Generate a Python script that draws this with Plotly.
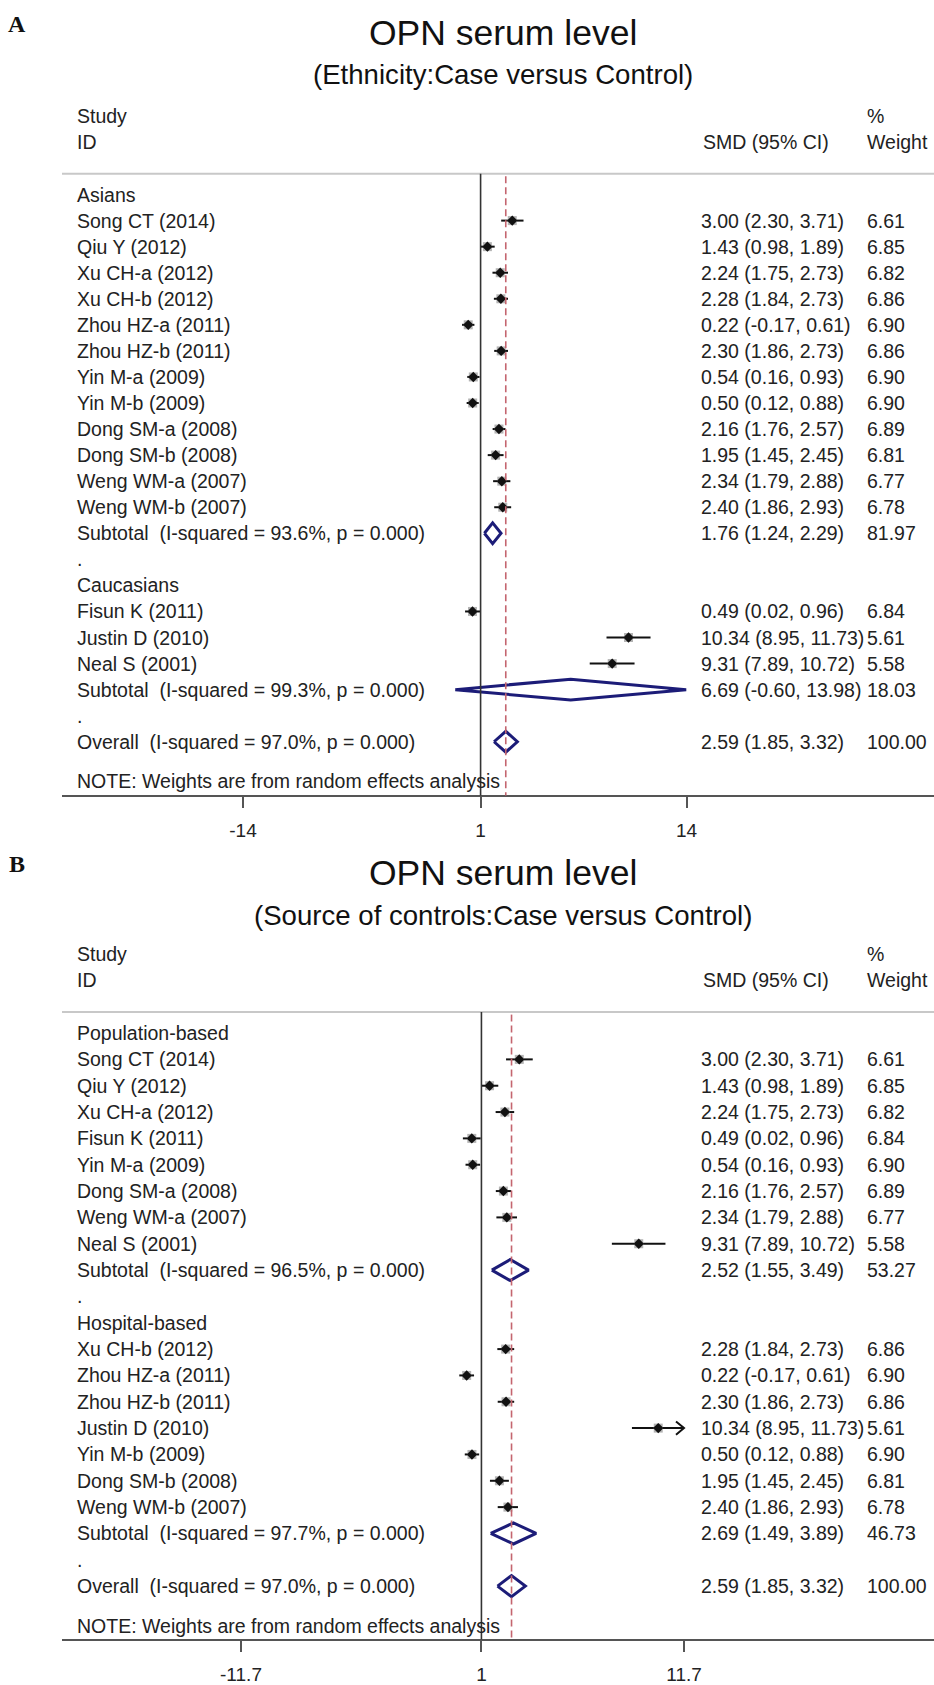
import plotly.graph_objects as go

W, H = 934, 1685
FONT = "Liberation Sans, Arial, sans-serif"
TXT = "#222222"

# ---------------- Panel A data (Ethnicity) ----------------
a_title = "OPN serum level"
a_subtitle = "(Ethnicity:Case versus Control)"
a_labels = ["Asians",
            "Song CT (2014)", "Qiu Y (2012)", "Xu CH-a (2012)", "Xu CH-b (2012)",
            "Zhou HZ-a (2011)", "Zhou HZ-b (2011)", "Yin M-a (2009)", "Yin M-b (2009)",
            "Dong SM-a (2008)", "Dong SM-b (2008)", "Weng WM-a (2007)", "Weng WM-b (2007)",
            "Subtotal\u00a0 (I-squared = 93.6%, p = 0.000)",
            ".",
            "Caucasians",
            "Fisun K (2011)", "Justin D (2010)", "Neal S (2001)",
            "Subtotal\u00a0 (I-squared = 99.3%, p = 0.000)",
            ".",
            "Overall\u00a0 (I-squared = 97.0%, p = 0.000)"]
a_kind = ["group"] + ["study"] * 12 + ["sub", "dot", "group"] + ["study"] * 3 + ["sub", "dot", "overall"]
a_est = [None, 3.00, 1.43, 2.24, 2.28, 0.22, 2.30, 0.54, 0.50, 2.16, 1.95, 2.34, 2.40, 1.76,
         None, None, 0.49, 10.34, 9.31, 6.69, None, 2.59]
a_lo = [None, 2.30, 0.98, 1.75, 1.84, -0.17, 1.86, 0.16, 0.12, 1.76, 1.45, 1.79, 1.86, 1.24,
        None, None, 0.02, 8.95, 7.89, -0.60, None, 1.85]
a_hi = [None, 3.71, 1.89, 2.73, 2.73, 0.61, 2.73, 0.93, 0.88, 2.57, 2.45, 2.88, 2.93, 2.29,
        None, None, 0.96, 11.73, 10.72, 13.98, None, 3.32]
a_wt = [None, 6.61, 6.85, 6.82, 6.86, 6.90, 6.86, 6.90, 6.90, 6.89, 6.81, 6.77, 6.78, 81.97,
        None, None, 6.84, 5.61, 5.58, 18.03, None, 100.00]
a_ticks = [-14, 1, 14]
a_ticktext = ["-14", "1", "14"]

# ---------------- Panel B data (Source of controls) ----------------
b_title = "OPN serum level"
b_subtitle = "(Source of controls:Case versus Control)"
b_labels = ["Population-based",
            "Song CT (2014)", "Qiu Y (2012)", "Xu CH-a (2012)", "Fisun K (2011)",
            "Yin M-a (2009)", "Dong SM-a (2008)", "Weng WM-a (2007)", "Neal S (2001)",
            "Subtotal\u00a0 (I-squared = 96.5%, p = 0.000)",
            ".",
            "Hospital-based",
            "Xu CH-b (2012)", "Zhou HZ-a (2011)", "Zhou HZ-b (2011)", "Justin D (2010)",
            "Yin M-b (2009)", "Dong SM-b (2008)", "Weng WM-b (2007)",
            "Subtotal\u00a0 (I-squared = 97.7%, p = 0.000)",
            ".",
            "Overall\u00a0 (I-squared = 97.0%, p = 0.000)"]
b_kind = ["group"] + ["study"] * 8 + ["sub", "dot", "group"] + ["study"] * 7 + ["sub", "dot", "overall"]
b_est = [None, 3.00, 1.43, 2.24, 0.49, 0.54, 2.16, 2.34, 9.31, 2.52,
         None, None, 2.28, 0.22, 2.30, 10.34, 0.50, 1.95, 2.40, 2.69, None, 2.59]
b_lo = [None, 2.30, 0.98, 1.75, 0.02, 0.16, 1.76, 1.79, 7.89, 1.55,
        None, None, 1.84, -0.17, 1.86, 8.95, 0.12, 1.45, 1.86, 1.49, None, 1.85]
b_hi = [None, 3.71, 1.89, 2.73, 0.96, 0.93, 2.57, 2.88, 10.72, 3.49,
        None, None, 2.73, 0.61, 2.73, 11.73, 0.88, 2.45, 2.93, 3.89, None, 3.32]
b_wt = [None, 6.61, 6.85, 6.82, 6.84, 6.90, 6.89, 6.77, 5.58, 53.27,
        None, None, 6.86, 6.90, 6.86, 5.61, 6.90, 6.81, 6.78, 46.73, None, 100.00]
b_ticks = [-11.7, 1, 11.7]
b_ticktext = ["-11.7", "1", "11.7"]

null_value = 1
note_text = "NOTE: Weights are from random effects analysis"

# ---------------- layout geometry (pixels) ----------------
X_LEFT, X_RIGHT = 62, 934
X_LABEL, X_EST, X_WT = 76, 700, 866
SPLIT = 842  # pixel row dividing the two panels
panels = [
    dict(key="", lab="A", title=a_title, sub=a_subtitle, labels=a_labels, kind=a_kind,
         est=a_est, lo=a_lo, hi=a_hi, wt=a_wt, ticks=a_ticks, ticktext=a_ticktext,
         tick_px=(243, 686.5), row0=195.0, step=26.12, axis_px=797.5,
         lab_y=24, title_y=33, sub_y=75, top=0, bottom=SPLIT),
    dict(key="2", lab="B", title=b_title, sub=b_subtitle, labels=b_labels, kind=b_kind,
         est=b_est, lo=b_lo, hi=b_hi, wt=b_wt, ticks=b_ticks, ticktext=b_ticktext,
         tick_px=(241, 684), row0=1035.5, step=26.4, axis_px=1643.5,
         lab_y=866, title_y=875, sub_y=918, top=SPLIT, bottom=H),
]
SEP_ROW = -0.8
NOTE_ROW = 22.5

fig = go.Figure()
annotations = []
shapes = []
layout_axes = {}


def ann(xpx, y, yref, text, size=19.5, anchor="left", color=TXT, family=FONT, yanchor="middle"):
    return dict(x=xpx / W, xref="paper", y=y, yref=yref, text=text, showarrow=False,
                xanchor=anchor, yanchor=yanchor, borderpad=0,
                font=dict(size=size, color=color, family=family))


for p in panels:
    k = p["key"]
    xr, yr = "x" + k, "y" + k
    lo_t, hi_t = p["ticks"][0], p["ticks"][-1]
    plo, phi = p["tick_px"]
    s = (phi - plo) / (hi_t - lo_t)
    x_range = [lo_t - (plo - X_LEFT) / s, hi_t + (X_RIGHT - phi) / s]
    y_range = [(p["bottom"] - p["row0"]) / p["step"], (p["top"] - p["row0"]) / p["step"]]
    axis_row = (p["axis_px"] - p["row0"]) / p["step"]

    layout_axes["xaxis" + k] = dict(
        domain=[X_LEFT / W, 1], range=x_range, anchor="free", position=1 - p["axis_px"] / H,
        tickvals=p["ticks"], ticktext=p["ticktext"], showline=True, linecolor="#555555",
        linewidth=2.4, ticks="outside", ticklen=11, tickwidth=2, tickcolor="#555555",
        showgrid=False, zeroline=False, ticklabelstandoff=6,
        tickfont=dict(size=19, color=TXT, family=FONT), fixedrange=True)
    layout_axes["yaxis" + k] = dict(domain=[1 - p["bottom"] / H, 1 - p["top"] / H], range=y_range,
                                    anchor=xr, visible=False, showgrid=False, zeroline=False,
                                    fixedrange=True)

    # panel letter, titles
    annotations.append(ann(17, 1 - p["lab_y"] / H, "paper", "<b>" + p["lab"] + "</b>", size=24,
                           anchor="center", color="#111", family="Liberation Serif, Times New Roman, serif"))
    annotations.append(ann(503, 1 - p["title_y"] / H, "paper", p["title"], size=35.5, anchor="center", color="#111"))
    annotations.append(ann(503, 1 - p["sub_y"] / H, "paper", p["sub"], size=27.6, anchor="center", color="#111"))

    # column headers
    annotations.append(ann(X_LABEL, -3, yr, "Study"))
    annotations.append(ann(X_LABEL, -2, yr, "ID"))
    annotations.append(ann(X_EST + 2, -2, yr, "SMD (95% CI)"))
    annotations.append(ann(X_WT, -3, yr, "%"))
    annotations.append(ann(X_WT, -2, yr, "Weight"))
    annotations.append(ann(X_LABEL, NOTE_ROW, yr, note_text))

    # separator line under header
    shapes.append(dict(type="line", xref="paper", x0=X_LEFT / W, x1=1, yref=yr, y0=SEP_ROW, y1=SEP_ROW,
                       line=dict(color="#c8c8c8", width=2)))
    # null line
    shapes.append(dict(type="line", xref=xr, x0=null_value, x1=null_value, yref=yr, y0=SEP_ROW, y1=axis_row,
                       line=dict(color="#333333", width=1.6)))
    # overall effect dashed line
    overall = [e for e, kd in zip(p["est"], p["kind"]) if kd == "overall"][0]
    shapes.append(dict(type="line", xref=xr, x0=overall, x1=overall, yref=yr, y0=SEP_ROW + 0.1, y1=axis_row,
                       line=dict(color="#c4656f", width=1.6, dash="7px,4px")))

    ci_x, ci_y, pt_x, pt_y = [], [], [], []
    arrow_x, arrow_y = [], []
    dia_x, dia_y = [], []
    for r, (lab, kd, e, lo, hi, w) in enumerate(zip(p["labels"], p["kind"], p["est"], p["lo"], p["hi"], p["wt"])):
        annotations.append(ann(X_LABEL, r, yr, lab))
        if e is None:
            continue
        annotations.append(ann(X_EST, r, yr, f"{e:.2f} ({lo:.2f}, {hi:.2f})"))
        annotations.append(ann(X_WT, r, yr, f"{w:.2f}"))
        if kd == "study":
            hi_c = min(hi, hi_t)
            ci_x += [lo, hi_c, None]
            ci_y += [r, r, None]
            pt_x.append(e)
            pt_y.append(r)
            if hi > hi_t:
                ax = 8 / s
                arrow_x += [hi_c - ax, hi_c, hi_c - ax, None]
                arrow_y += [r - 0.25, r, r + 0.25, None]
        else:
            dia_x += [lo, e, hi, e, lo, None]
            dia_y += [r, r - 0.4, r, r + 0.4, r, None]

    fig.add_trace(go.Scatter(x=ci_x, y=ci_y, xaxis=xr, yaxis=yr, mode="lines",
                             line=dict(color="#111111", width=2), hoverinfo="skip", showlegend=False))
    if arrow_x:
        fig.add_trace(go.Scatter(x=arrow_x, y=arrow_y, xaxis=xr, yaxis=yr, mode="lines",
                                 line=dict(color="#111111", width=2), hoverinfo="skip", showlegend=False))
    fig.add_trace(go.Scatter(x=pt_x, y=pt_y, xaxis=xr, yaxis=yr, mode="markers",
                             marker=dict(symbol="square", size=9, color="#b4b4b4"),
                             hoverinfo="skip", showlegend=False))
    fig.add_trace(go.Scatter(x=pt_x, y=pt_y, xaxis=xr, yaxis=yr, mode="markers",
                             marker=dict(symbol="diamond", size=8, color="#111111"),
                             hoverinfo="skip", showlegend=False))
    fig.add_trace(go.Scatter(x=dia_x, y=dia_y, xaxis=xr, yaxis=yr, mode="lines",
                             line=dict(color="#1c1c78", width=3), hoverinfo="skip", showlegend=False))

fig.update_layout(width=W, height=H, margin=dict(l=0, r=0, t=0, b=0),
                  paper_bgcolor="white", plot_bgcolor="rgba(0,0,0,0)",
                  annotations=annotations, shapes=shapes, showlegend=False, **layout_axes)

fig.write_html("out.html", config={"displayModeBar": False},
               post_script="document.body.style.margin='0px';document.body.style.padding='0px';")
